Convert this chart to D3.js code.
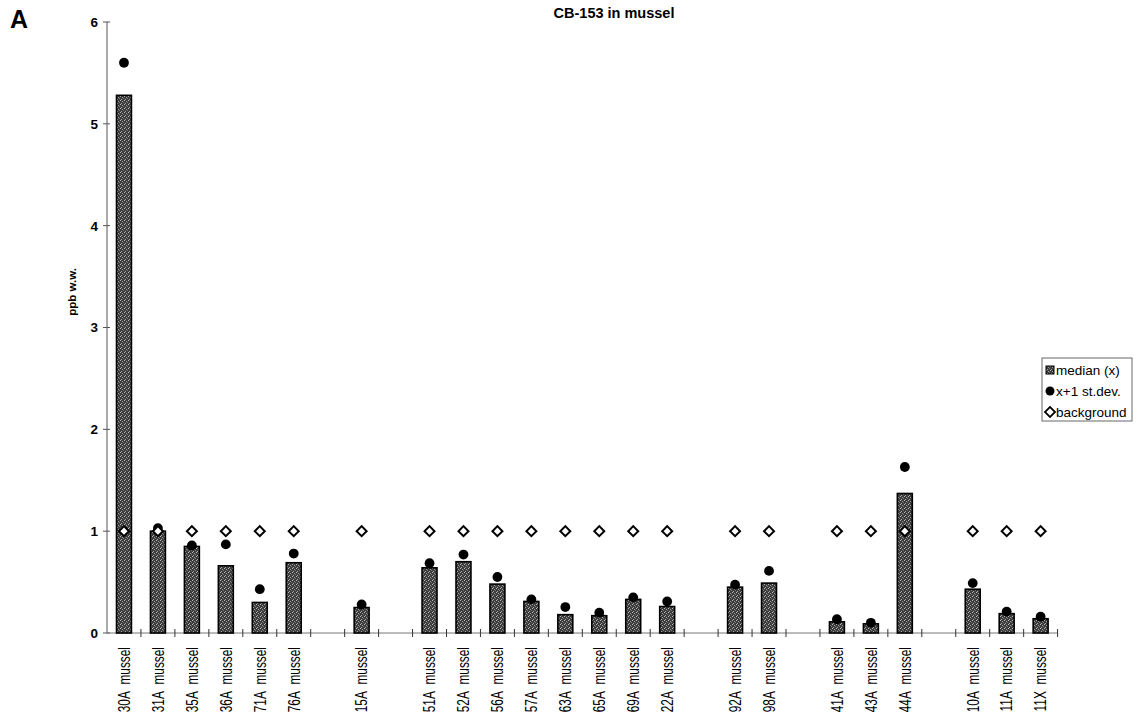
<!DOCTYPE html>
<html lang="en">
<head>
  <meta charset="UTF-8">
  <title>CB-153 in mussel</title>
  <script src="https://cdn.jsdelivr.net/npm/d3@7/dist/d3.min.js"></script>
  <style>
    html, body { margin: 0; padding: 0; background: #fff; }
    text { font-family: "Liberation Sans", Arial, sans-serif; fill: #000; }
  </style>
</head>
<body>
  <svg id="chart" width="1138" height="717"></svg>
  <script>
    //
    // Data
    //

    // stations, in groups (a blank slot sits between groups)
    var groups = [
      ['30A', '31A', '35A', '36A', '71A', '76A'],
      ['15A'],
      ['51A', '52A', '56A', '57A', '63A', '65A', '69A', '22A'],
      ['92A', '98A'],
      ['41A', '43A', '44A'],
      ['10A', '11A', '11X']
    ]
    var stations = ['30A', '31A', '35A', '36A', '71A', '76A', '15A', '51A', '52A', '56A', '57A',
      '63A', '65A', '69A', '22A', '92A', '98A', '41A', '43A', '44A', '10A', '11A', '11X']
    // median (x)
    var median = [5.28, 1.00, 0.85, 0.66, 0.30, 0.69, 0.25, 0.64, 0.70, 0.48, 0.31,
      0.18, 0.17, 0.33, 0.26, 0.45, 0.49, 0.11, 0.09, 1.37, 0.43, 0.19, 0.14]
    // x+1 st.dev.
    var upper = [5.60, 1.03, 0.86, 0.87, 0.43, 0.78, 0.28, 0.685, 0.77, 0.55, 0.33,
      0.255, 0.20, 0.35, 0.31, 0.475, 0.61, 0.135, 0.10, 1.63, 0.49, 0.21, 0.16]
    // background level
    var background = [1, 1, 1, 1, 1, 1, 1, 1, 1, 1, 1,
      1, 1, 1, 1, 1, 1, 1, 1, 1, 1, 1, 1]
    var yTicks = [0, 1, 2, 3, 4, 5, 6]
    var legendItems = ['median (x)', 'x+1 st.dev.', 'background']

    //
    // Layout
    //

    var x0 = 107, x1 = 1057.6
    var yTop = 22, yBase = 633

    // slot keys: stations plus blanks between groups
    var slots = []
    groups.forEach(function (g, i) {
      if (i > 0) slots.push('gap' + i)
      g.forEach(function (s) { slots.push(s) })
    })

    var rows = stations.map(function (s, i) {
      return { name: s, median: median[i], upper: upper[i], bg: background[i] }
    })

    var svg = d3.select('#chart')

    var x = d3.scaleBand().domain(slots).range([x0, x1])
      .paddingInner(0.56).paddingOuter(0.28)
    var y = d3.scaleLinear().domain([0, 6]).range([yBase, yTop])

    // stipple texture for bars
    var defs = svg.append('defs')
    var pat = defs.append('pattern').attr('id', 'stipple')
      .attr('width', 4).attr('height', 4).attr('patternUnits', 'userSpaceOnUse')
    pat.append('rect').attr('width', 4).attr('height', 4).attr('fill', '#3c3c3c')
    pat.append('rect').attr('x', 0).attr('y', 0).attr('width', 1).attr('height', 1).attr('fill', '#b8b8b8')
    pat.append('rect').attr('x', 2).attr('y', 1).attr('width', 1).attr('height', 1).attr('fill', '#9a9a9a')
    pat.append('rect').attr('x', 1).attr('y', 3).attr('width', 1).attr('height', 1).attr('fill', '#a8a8a8')
    pat.append('rect').attr('x', 3).attr('y', 2).attr('width', 1).attr('height', 1).attr('fill', '#7a7a7a')

    //
    // Axes
    //

    // y axis
    svg.append('line')
      .attr('x1', x0).attr('x2', x0).attr('y1', yTop).attr('y2', yBase)
      .attr('stroke', '#555').attr('stroke-width', 1)
    svg.selectAll('.ytick').data(yTicks).enter().append('line')
      .attr('x1', x0 - 4).attr('x2', x0 + 3)
      .attr('y1', function (d) { return y(d) }).attr('y2', function (d) { return y(d) })
      .attr('stroke', '#555')
    svg.selectAll('.ylab').data(yTicks).enter().append('text')
      .attr('x', 98).attr('y', function (d) { return y(d) })
      .attr('dy', '0.36em').attr('text-anchor', 'end')
      .style('font-size', '13.5px').style('font-weight', 'bold')
      .text(function (d) { return d })

    svg.append('text')
      .attr('transform', 'translate(76,292) rotate(-90)')
      .attr('text-anchor', 'middle')
      .style('font-size', '11.5px').style('font-weight', 'bold')
      .text('ppb w.w.')

    // x axis
    svg.append('line')
      .attr('x1', x0).attr('x2', x1).attr('y1', yBase).attr('y2', yBase)
      .attr('stroke', '#777').attr('stroke-width', 1)
    var bounds = slots.map(function (s) { return x(s) - x.step() * x.paddingInner() / 2 + x.step() })
    svg.selectAll('.xtick').data(bounds).enter().append('line')
      .attr('x1', function (d) { return d }).attr('x2', function (d) { return d })
      .attr('y1', yBase - 4).attr('y2', yBase + 4)
      .attr('stroke', '#333')

    svg.selectAll('.xlab').data(rows).enter().append('text')
      .attr('transform', function (d) {
        return 'translate(' + (x(d.name) + x.bandwidth() / 2) + ',647) rotate(-90) scale(0.72,1)'
      })
      .attr('text-anchor', 'end').attr('dy', '0.35em')
      .style('font-size', '16.5px')
      .text(function (d) { return d.name + '\u00a0 mussel' })

    //
    // Marks
    //

    svg.selectAll('.bar').data(rows).enter().append('rect')
      .attr('x', function (d) { return x(d.name) })
      .attr('width', x.bandwidth())
      .attr('y', function (d) { return y(d.median) })
      .attr('height', function (d) { return yBase - y(d.median) })
      .attr('fill', 'url(#stipple)')
      .attr('stroke', '#000').attr('stroke-width', 1.6)

    svg.selectAll('.dot').data(rows).enter().append('circle')
      .attr('cx', function (d) { return x(d.name) + x.bandwidth() / 2 })
      .attr('cy', function (d) { return y(d.upper) })
      .attr('r', 4.9)
      .attr('fill', '#000')

    var diamond = d3.symbol().type(d3.symbolSquare).size(50)
    svg.selectAll('.bg').data(rows).enter().append('path')
      .attr('d', diamond)
      .attr('transform', function (d) {
        return 'translate(' + (x(d.name) + x.bandwidth() / 2) + ',' + y(d.bg) + ') rotate(45)'
      })
      .attr('fill', '#fff').attr('stroke', '#000').attr('stroke-width', 2)

    //
    // Title, panel letter, legend
    //

    svg.append('text').attr('x', 614).attr('y', 18)
      .attr('text-anchor', 'middle')
      .style('font-size', '14.5px').style('font-weight', 'bold')
      .text('CB-153 in mussel')

    svg.append('text').attr('x', 10).attr('y', 28)
      .style('font-size', '25px').style('font-weight', 'bold')
      .text('A')

    var lg = svg.append('g').attr('transform', 'translate(1042,358)')
    lg.append('rect').attr('width', 90).attr('height', 63)
      .attr('fill', '#fff').attr('stroke', '#666').attr('stroke-width', 1)
    legendItems.forEach(function (t, i) {
      var cy = 12 + i * 21
      if (i === 0) {
        lg.append('rect').attr('x', 4).attr('y', cy - 4).attr('width', 8).attr('height', 8)
          .attr('fill', 'url(#stipple)').attr('stroke', '#000')
      } else if (i === 1) {
        lg.append('circle').attr('cx', 8).attr('cy', cy).attr('r', 4.5).attr('fill', '#000')
      } else {
        lg.append('path').attr('d', diamond)
          .attr('transform', 'translate(8,' + cy + ') rotate(45)')
          .attr('fill', '#fff').attr('stroke', '#000').attr('stroke-width', 1.8)
      }
      lg.append('text').attr('x', 14).attr('y', cy).attr('dy', '0.36em')
        .style('font-size', '13.5px')
        .text(t)
    })
  </script>
</body>
</html>
